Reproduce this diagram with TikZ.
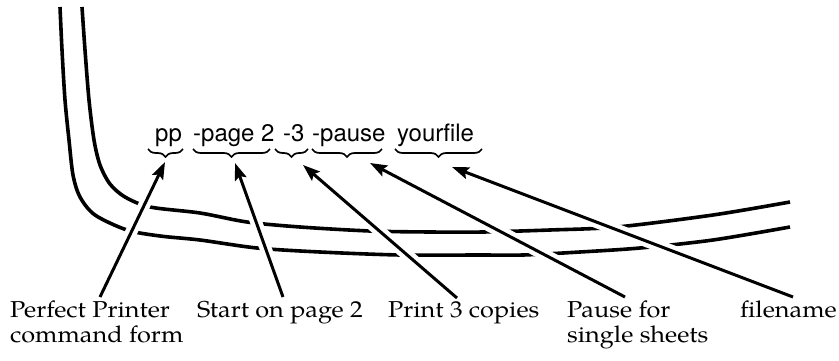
\documentclass[tikz,border=0pt]{standalone}
\usepackage{fontspec}
\newfontfamily\cmdfont{TeX Gyre Heros}
\newfontfamily\labfont[FakeStretch=1.1]{TeX Gyre Pagella}
\usetikzlibrary{arrows.meta,decorations.pathreplacing}
\tikzset{
  curve/.style={line width=3.6pt, line cap=butt},
  halo/.style={draw=white, line width=12pt, shorten >=18pt, shorten <=4pt},
  pointer/.style={line width=3pt, -{Stealth[length=17pt,width=12pt,inset=3pt]}},
  bracemark/.style={line width=1.7pt, decorate, decoration={brace, mirror, amplitude=8pt}},
  token/.style={anchor=base west, inner sep=0pt, font=\cmdfont\fontsize{24}{28}\selectfont},
  lab/.style={anchor=north west, inner sep=0pt, align=left, font=\labfont\fontsize{23}{25}\selectfont},
}
\begin{document}
\begin{tikzpicture}[x=1pt,y=-1pt]
\useasboundingbox[fill=white] (0,0) rectangle (839,361);
% the two curves
\draw[curve] plot[smooth] coordinates {(82,7) (85,50) (89,100) (94,140) (100,165) (110,184) (125,197) (150,207) (200,213) (247,222) (300,227) (370,231) (430,232) (483,232) (550,230) (617,227) (713,215) (790,202)};
\draw[curve] plot[smooth] coordinates {(60,7) (62,50) (65,100) (69,140) (73,175) (80,197) (95,215) (127,230) (160,236) (200,240) (257,248) (320,252) (400,255) (480,255) (523,255) (580,252) (640,248) (713,240) (790,227)};
% command tokens
\node[token] (t1) at (155,142) {pp};
\node[token] (t2) at (193,142) {-page 2};
\node[token] (t3) at (283,142) {-3};
\node[token] (t4) at (312,142) {-pause};
\node[token] (t5) at (397,142) {yourfile};
% labels
\node[lab] (l1) at (10,301) {Perfect Printer\\command form};
\node[lab] (l2) at (197,301) {Start on page 2};
\node[lab] (l3) at (388,301) {Print 3 copies};
\node[lab] (l4) at (567,301) {Pause for\\single sheets};
\node[lab, anchor=north east] (l5) at (837,301) {filename};
% arrow ends
\coordinate (s1) at (100,297); \coordinate (b1) at (165,162);
\coordinate (s2) at (283,297); \coordinate (b2) at (235,163);
\coordinate (s3) at (457,298); \coordinate (b3) at (303,165);
\coordinate (s4) at (625,297); \coordinate (b4) at (370,163);
\coordinate (s5) at (793,297); \coordinate (b5) at (452,167);
\foreach \i in {1,...,5}{
  \draw[halo] (s\i) -- (b\i);
  \draw[pointer] (s\i) -- (b\i);
}
% braces
\draw[bracemark] (148,149) -- (183,149);
\draw[bracemark] (193,149) -- (270,149);
\draw[bracemark] (275,149) -- (308,149);
\draw[bracemark] (312,149) -- (382,149);
\draw[bracemark] (395,149) -- (482,149);
\end{tikzpicture}
\end{document}
